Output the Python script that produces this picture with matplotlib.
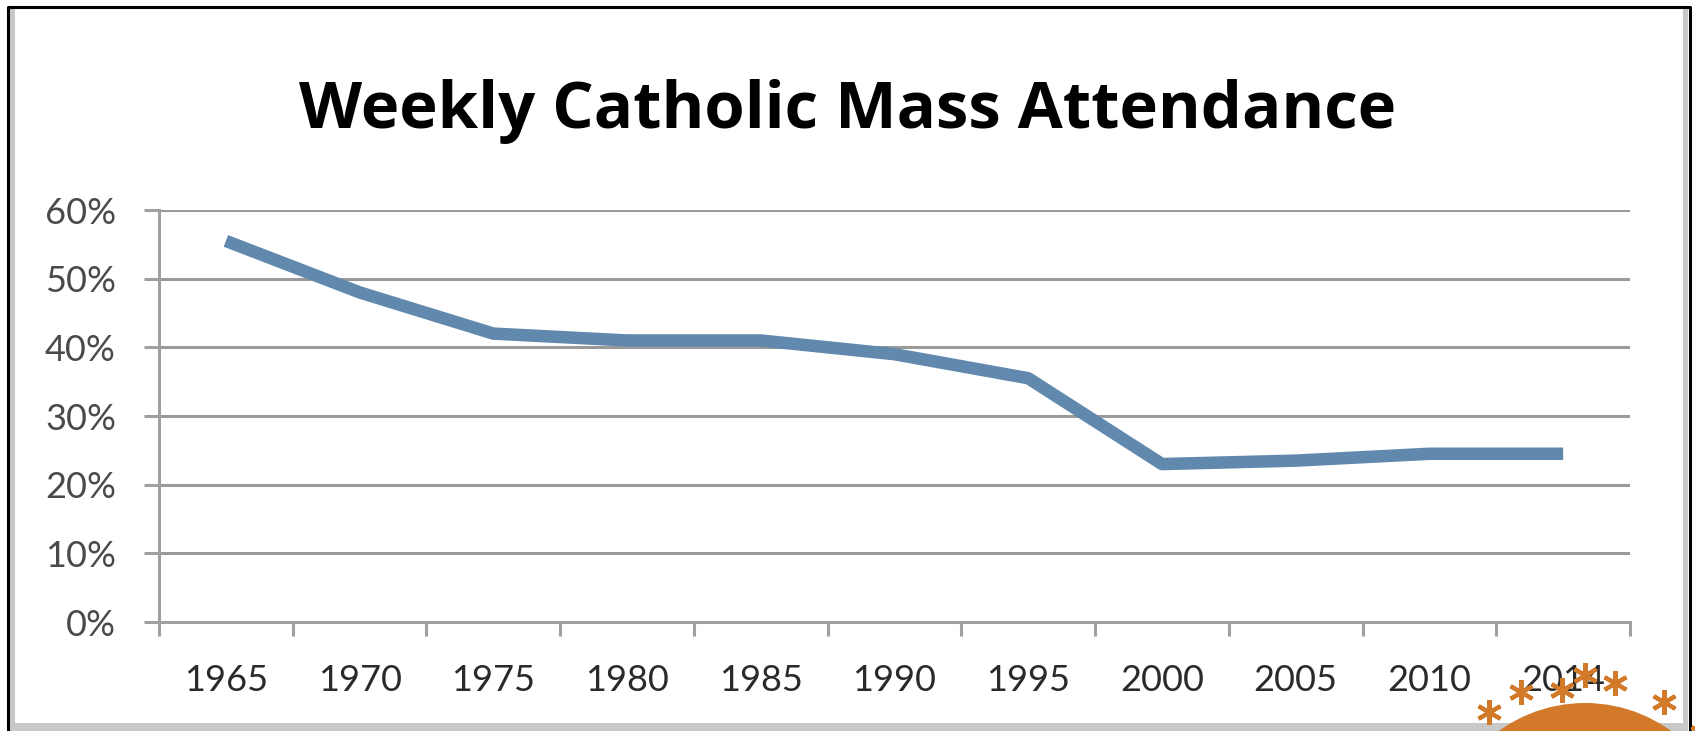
import numpy as np
import matplotlib
matplotlib.use("Agg")
import matplotlib.pyplot as plt
from matplotlib.patches import Rectangle, Circle

# data
years = ["1965", "1970", "1975", "1980", "1985", "1990", "1995",
         "2000", "2005", "2010", "2014"]
attendance = [55.5, 48, 42, 41, 41, 39, 35.5, 23, 23.5, 24.5, 24.5]
yticks = [0, 10, 20, 30, 40, 50, 60]

W, H = 1695, 731
fig = plt.figure(figsize=(W / 100, H / 100), dpi=100)
fig.patch.set_facecolor("white")

font = "Lato"

ax = fig.add_axes([159 / W, 1 - 622 / H, (1630 - 159) / W, (622 - 210) / H])
x = np.arange(len(years))
ax.plot(x, attendance, color="#6189ad", lw=9, solid_capstyle="butt",
        solid_joinstyle="round", zorder=3)

ax.set_xlim(-0.5, len(years) - 0.5)
ax.set_ylim(0, 60)
ax.set_yticks(yticks)
ax.set_yticklabels([f"{v}%" for v in yticks], fontsize=26, family=font,
                   color="#4a4a4a")
ax.set_xticks(x)
ax.set_xticklabels(years, fontsize=26, family=font, color="#2a2a2a")
ax.set_xticks(np.arange(len(years) + 1) - 0.5, minor=True)
ax.tick_params(axis="x", which="major", length=0, pad=30)
ax.tick_params(axis="x", which="minor", length=10, width=2.2,
               color="#a0a0a0", direction="out")
ax.tick_params(axis="y", length=11, width=2.2, color="#a0a0a0", pad=20)

ax.grid(axis="y", color="#9a9a9a", lw=2.2)
ax.set_axisbelow(True)
for s in ["top", "right"]:
    ax.spines[s].set_visible(False)
for s in ["left", "bottom"]:
    ax.spines[s].set_color("#a0a0a0")
    ax.spines[s].set_linewidth(2.2)

fig.text(848 / W, 1 - 112 / H, "Weekly Catholic Mass Attendance",
         ha="center", va="center", fontsize=47, fontweight="bold",
         family="Open Sans", color="black")

# frame and orange decoration, pixel coordinates
deco = fig.add_axes([0, 0, 1, 1], zorder=5)
deco.set_xlim(0, W)
deco.set_ylim(H, 0)
deco.axis("off")
deco.patch.set_alpha(0)
deco.add_patch(Rectangle((10, 9), 5, 730, color="#c8c8c8", lw=0))
deco.add_patch(Rectangle((1683, 9), 5, 730, color="#c8c8c8", lw=0))
deco.add_patch(Rectangle((10, 723), 1678, 10, color="#c8c8c8", lw=0))
deco.plot([8, 8, 1690, 1690], [740, 7, 7, 740], color="black", lw=2.2)

deco.add_patch(Circle((1585, 850), 147, color="#d27a2a", lw=0))
ang = np.radians([-160, -143, -125, -112, -98, -90, -80, -62, -45, -27])
rad = [158, 165, 168, 170, 162, 175, 170, 168, 165, 160]
fx = 1585 + np.array(rad) * np.cos(ang)
fy = 850 + np.array(rad) * np.sin(ang)
deco.plot(fx, fy, ls="none", marker=(6, 2, 0), ms=18, mew=3,
          color="#d27a2a", clip_on=False)
deco.plot(fx, fy, ls="none", marker="o", ms=6, color="#d27a2a", clip_on=False)

fig.savefig("out.png", dpi=100)
